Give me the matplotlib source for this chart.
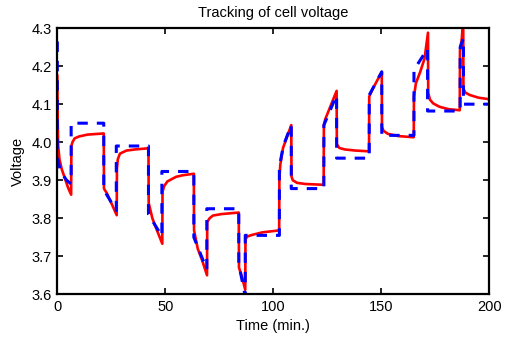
import matplotlib
matplotlib.use('Agg')
import matplotlib.pyplot as plt

plt.rcParams['font.family'] = ['Liberation Sans', 'DejaVu Sans']
plt.rcParams['lines.scale_dashes'] = False

red_t = [0, 0.2, 0.4, 1, 2, 3.5, 5, 6.4,
         6.5, 7, 8, 10, 14, 21.5,
         21.6, 23, 25, 27.5,
         27.6, 28, 29, 32, 36, 42.2,
         42.3, 44, 46, 48.6,
         48.7, 49.5, 51, 55, 58, 63.2,
         63.3, 65, 67, 69.3,
         69.4, 70.5, 72, 76, 80, 84,
         84.1, 85.5, 87,
         87.1, 88, 90, 95, 102.7,
         102.8, 103.2, 104.5, 108.3,
         108.4, 109, 111, 115, 123.3,
         123.4, 124, 129.3,
         129.4, 130.5, 133, 138, 144.3,
         144.4, 146, 150.2,
         150.3, 151, 153, 158, 165,
         165.1, 166, 168, 170, 171.6,
         171.7, 172.5, 174, 177, 181, 186.3,
         186.4, 187.2, 187.9,
         188, 189, 191, 195, 200]
red_v = [4.175, 4.05, 3.99, 3.955, 3.93, 3.905, 3.88, 3.862,
         3.99, 4.0, 4.01, 4.015, 4.02, 4.023,
         3.878, 3.865, 3.84, 3.808,
         3.93, 3.955, 3.97, 3.978, 3.981, 3.984,
         3.84, 3.80, 3.77, 3.733,
         3.87, 3.885, 3.897, 3.909, 3.913, 3.917,
         3.768, 3.72, 3.69, 3.65,
         3.79, 3.80, 3.807, 3.811, 3.813, 3.815,
         3.67, 3.645, 3.612,
         3.745, 3.752, 3.756, 3.763, 3.768,
         3.90, 3.94, 3.985, 4.045,
         3.91, 3.90, 3.893, 3.89, 3.888,
         4.045, 4.06, 4.135,
         3.995, 3.985, 3.981, 3.978, 3.976,
         4.12, 4.14, 4.185,
         4.04, 4.03, 4.022, 4.016, 4.013,
         4.12, 4.155, 4.185, 4.22, 4.288,
         4.13, 4.112, 4.102, 4.093, 4.087, 4.084,
         4.24, 4.27, 4.32,
         4.14, 4.13, 4.124, 4.117, 4.113]

# estimated voltage (blue dashed)
blue_t = [0, 0, 1, 2.5, 4.3, 6.4,
          6.4, 21.5,
          21.5, 27.3,
          27.3, 42.2,
          42.2, 48.4,
          48.4, 63.2,
          63.2, 69.2,
          69.2, 84,
          84, 87,
          87, 102.8,
          102.8, 104.6, 108.3,
          108.3, 123.4,
          123.4, 129.3,
          129.3, 144.4,
          144.4, 150.2,
          150.2, 165.1,
          165.1, 171.4,
          171.4, 186.5,
          186.5, 188,
          188, 200]
blue_v = [4.265, 3.96, 3.935, 3.915, 3.90, 3.89,
          4.05, 4.05,
          3.875, 3.82,
          3.99, 3.99,
          3.81, 3.753,
          3.923, 3.923,
          3.75, 3.665,
          3.825, 3.825,
          3.68, 3.595,
          3.755, 3.755,
          3.935, 3.99, 4.045,
          3.878, 3.878,
          4.045, 4.124,
          3.958, 3.958,
          4.124, 4.185,
          4.018, 4.018,
          4.19, 4.246,
          4.082, 4.082,
          4.25, 4.273,
          4.10, 4.10]

xticks = [0, 50, 100, 150, 200]
yticks = [3.6, 3.7, 3.8, 3.9, 4.0, 4.1, 4.2, 4.3]

fig = plt.figure(figsize=(5.05, 3.43), dpi=100)
ax = fig.add_axes([0.1135, 0.142, 0.8555, 0.776])

ax.plot(red_t, red_v, color='#ff0000', lw=1.9, solid_joinstyle='round')
ax.plot(blue_t, blue_v, color='#0000ff', lw=2.2, dashes=(7.5, 6.5))

ax.set_xlim(0, 200)
ax.set_ylim(3.6, 4.3)
ax.set_xticks(xticks)
ax.set_yticks(yticks)
ax.set_yticklabels(['%.1f' % v for v in yticks])
ax.tick_params(direction='in', length=4, width=1.2, top=True, right=True,
               labelsize=10.5, pad=4, colors='black')
for s in ax.spines.values():
    s.set_linewidth(1.6)

ax.set_title('Tracking of cell voltage', fontsize=10.5, pad=8)
ax.set_xlabel('Time (min.)', fontsize=10.5, labelpad=4)
ax.set_ylabel('Voltage', fontsize=10.5, labelpad=5)

fig.savefig('out.png', dpi=100)
